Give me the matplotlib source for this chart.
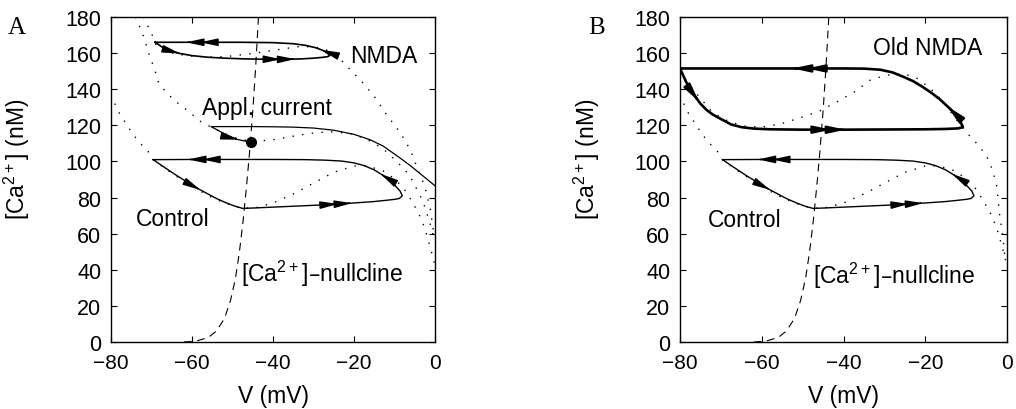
import numpy as np
import matplotlib
matplotlib.use('Agg')
import matplotlib.pyplot as plt

plt.rcParams['font.family'] = ['Liberation Sans', 'DejaVu Sans']
plt.rcParams['font.size'] = 16.5
plt.rcParams['xtick.labelsize'] = 15
plt.rcParams['ytick.labelsize'] = 15.5

# --- data: V (mV), [Ca2+] (nM) ---
# Ca2+ nullcline (dashed, same in both panels)
null_v = [-62, -59, -56, -54, -52, -50.5, -49.3, -48.3, -47.4, -46.6, -45.8, -45, -44.3, -43.6]
null_ca = [0, 0.5, 2.5, 6, 13, 23, 35, 50, 67, 85, 105, 128, 152, 180]

# control V-nullcline (dotted, both panels)
ctrl_nc_v = [-80, -78.3, -76.3, -74.6, -72.6, -70.9, -69.6, -66, -62, -59, -56, -53, -50,
             -47.5, -44, -40, -35, -30, -25, -20, -16.8, -13, -11, -8, -6, -4, -2.5, -1, 0]
ctrl_nc_ca = [137, 128, 121, 115, 109.6, 105.7, 101, 95, 89, 85, 81, 78, 75.5,
              74, 74.5, 77, 82, 88, 94, 97.5, 97.5, 95, 92, 86, 79, 71, 63, 51, 42]

# applied current V-nullcline (dotted, panel A)
appl_nc_v = [-74, -72.8, -71.6, -70.9, -70, -69.1, -68.4, -66.7, -64.2, -61, -57.8, -55.3, -50,
             -45.4, -40, -35, -31, -26, -21, -17, -12.8, -9, -6.2, -3, -1, 0]
appl_nc_ca = [180, 174, 167, 161, 155.6, 150, 144.5, 139, 133.5, 128, 122, 119, 113.5,
              111, 112, 114, 115.5, 116.5, 115.5, 112.5, 107, 99, 92, 78, 64, 55]

# NMDA V-nullcline (dotted, panel A)
nmda_nc_v = [-72, -70, -69, -67, -64, -60, -56, -52, -46, -40, -34, -30, -27, -24, -21,
             -18, -15, -12, -8.6, -6, -4.5, -2.5, -1.2, -0.3]
nmda_nc_ca = [180, 171, 165, 161.5, 159.5, 158.3, 157.8, 158, 159.5, 161.5, 163.5, 163.5, 162,
              158, 151, 144, 136, 126, 116, 106, 97, 86, 74, 60]

# old NMDA V-nullcline (dotted, panel B)
old_nc_v = [-80, -78, -75, -72, -68, -64, -60, -55.5, -50, -45.8, -41.6, -37, -33.5, -30, -27,
            -24.5, -22, -19, -16, -13, -11, -9.1, -7, -5, -3.5, -2.5, -1.8, -1, -0.5]
old_nc_ca = [150, 143, 135, 127, 122, 119.5, 119, 120.7, 124.6, 128, 133, 139, 145, 147.5, 148.5,
             148, 146, 141, 134, 125, 119, 114, 109, 103, 95, 86, 70, 58, 46]

# trajectories (in the order of motion)
ctrl_v = [-69.6, -67, -64, -61.5, -59, -56.5, -54, -51.5, -49.5, -47.5, -45, -40, -35, -30, -25,
          -20, -15, -12, -10, -8.8, -8.1, -8.6, -9.8, -11.3, -13, -15, -17.5, -20, -23, -27, -32,
          -40, -50, -60, -69.6]
ctrl_ca = [101, 97, 92.5, 89, 85.5, 82.5, 79.5, 77, 75.3, 74, 74.2, 74.7, 75.2, 75.7, 76.3,
           77, 77.8, 78.5, 79, 79.5, 81, 83.5, 86.5, 89.5, 92.5, 95.3, 97.7, 99.2, 100.2, 100.7, 101,
           101.1, 101.1, 101.1, 101]
ctrl_tips = [(-58, 84), (-24, 76.3), (-20.5, 77), (-13.5, 93), (-61, 101), (-57.5, 101)]

nmda_v = [-69.1, -67.5, -65.5, -63, -60, -56, -52, -47, -42, -37, -33, -30, -28, -26.6, -26,
          -26.6, -27.8, -29.5, -32, -35, -40, -48, -56, -64, -69.1]
nmda_ca = [166, 163.5, 161.3, 159.8, 158.6, 157.7, 157.2, 156.8, 156.6, 156.6, 156.8, 157.2, 157.6,
           158, 158.6, 160, 161.6, 163, 164.3, 165.2, 165.8, 166, 166, 166, 166]
nmda_tips = [(-63, 159.8), (-38, 156.6), (-34.5, 156.7), (-28, 162), (-61.5, 166), (-58, 166)]

appl_v = [0, -3, -6, -9, -12.8, -16, -20, -25, -30, -35, -40, -45, -50, -55.3,
          -53, -51, -49, -47, -45.4]
appl_ca = [86.5, 92, 97.5, 102.5, 108.5, 112, 115, 117.3, 118.5, 119, 119.2, 119.3, 119.3, 119.3,
           116.5, 114.2, 112.3, 111.3, 111]
appl_tips = [(-48.5, 112)]
fixed_pt = (-45.4, 111)

old_v = [-80, -79.3, -78.5, -77.5, -76.3, -75, -73.5, -72, -70, -67.5, -65, -62, -58, -50, -40,
         -30, -20, -15, -12, -10.8, -11.3, -12.2, -13.3, -14.8, -16.5, -18.5, -20.8, -23, -25.5,
         -28, -31, -35, -40, -50, -60, -70, -80]
old_ca = [151.5, 148, 144, 140, 136, 132, 128.5, 126, 123.5, 120.5, 119, 118.2, 117.8, 117.6, 117.6,
          117.7, 117.8, 118, 118.3, 119, 121.5, 124.5, 127.7, 131, 134.5, 138, 141.5, 144.5, 147,
          149.3, 150.8, 151.4, 151.5, 151.5, 151.5, 151.5, 151.5]
old_tips = [(-75.3, 133.5), (-43, 117.6), (-39.5, 117.6), (-14.5, 130.5), (-52.5, 151.5), (-49, 151.5)]

xticks = [-80, -60, -40, -20, 0]
yticks = list(range(0, 181, 20))


def draw_arrows(ax, v, ca, tips, lw):
    pts = np.column_stack([np.asarray(v) / 80.0, np.asarray(ca) / 180.0])
    for tv, tc in tips:
        p = np.array([tv / 80.0, tc / 180.0])
        best = None
        for i in range(len(pts) - 1):
            a, b = pts[i], pts[i + 1]
            d = b - a
            l2 = d @ d
            if l2 == 0:
                continue
            t = np.clip((p - a) @ d / l2, 0, 1)
            q = a + t * d
            dist = np.linalg.norm(p - q)
            if best is None or dist < best[0]:
                best = (dist, q, d / np.sqrt(l2))
        _, q, u = best
        tail = q - u * 0.01
        ax.annotate('', xy=(q[0] * 80, q[1] * 180), xytext=(tail[0] * 80, tail[1] * 180),
                    arrowprops=dict(arrowstyle='-|>,head_length=0.7,head_width=0.15',
                                    color='black', lw=lw, shrinkA=0, shrinkB=0,
                                    mutation_scale=15))


def setup(ax, letter, ylab_x, letter_x):
    ax.set_xlim(-80, 0)
    ax.set_ylim(0, 180)
    ax.set_xticks(xticks)
    ax.set_yticks(yticks)
    ax.tick_params(direction='in', top=True, right=True, length=4, width=0.8)
    ax.tick_params(axis='x', pad=8)
    ax.tick_params(axis='y', pad=7)
    for s in ax.spines.values():
        s.set_linewidth(1.0)
    ax.set_xlabel('V (mV)')
    ax.set_ylabel(r'[Ca$\mathregular{^{2+}}$] (nM)')
    ax.xaxis.set_label_coords(0.5, -0.13)
    ax.yaxis.set_label_coords(ylab_x, 0.565)
    ax.text(letter_x, 0.97, letter, transform=ax.transAxes,
            family='Liberation Serif', fontsize=18, ha='center', va='center')


dot = dict(color='black', lw=1.0, linestyle=(0, (1, 6)))
dash = dict(color='black', lw=0.8, linestyle=(0, (7, 5)))

fig = plt.figure(figsize=(10.16, 4.10), dpi=100)
axA = fig.add_axes([0.1093, 0.1634, 0.3189, 0.7927])
axB = fig.add_axes([0.6693, 0.1634, 0.3219, 0.7927])

# panel A
axA.plot(null_v, null_ca, **dash)
axA.plot(ctrl_nc_v, ctrl_nc_ca, **dot)
axA.plot(appl_nc_v, appl_nc_ca, **dot)
axA.plot(nmda_nc_v, nmda_nc_ca, **dot)
axA.plot(ctrl_v, ctrl_ca, color='black', lw=1.0)
axA.plot(nmda_v, nmda_ca, color='black', lw=1.2)
axA.plot(appl_v, appl_ca, color='black', lw=0.9)
draw_arrows(axA, ctrl_v, ctrl_ca, ctrl_tips, 1.0)
draw_arrows(axA, nmda_v, nmda_ca, nmda_tips, 1.0)
draw_arrows(axA, appl_v, appl_ca, appl_tips, 1.0)
axA.plot(*fixed_pt, 'o', color='black', markersize=7, zorder=5)
axA.text(-12.6, 158.4, 'NMDA', ha='center', va='center')
axA.text(-41.5, 130, 'Appl. current', ha='center', va='center')
axA.text(-64.7, 68.5, 'Control', ha='center', va='center')
axA.text(-27.9, 38, r'[Ca$\mathregular{^{2+}}$]–nullcline', ha='center', va='center')
setup(axA, 'A', -0.245, -0.29)

# panel B
axB.plot(null_v, null_ca, **dash)
axB.plot(ctrl_nc_v, ctrl_nc_ca, **dot)
axB.plot(old_nc_v, old_nc_ca, **dot)
axB.plot(ctrl_v, ctrl_ca, color='black', lw=1.0)
axB.plot(old_v, old_ca, color='black', lw=1.9)
draw_arrows(axB, ctrl_v, ctrl_ca, ctrl_tips, 1.0)
draw_arrows(axB, old_v, old_ca, old_tips, 1.6)
axB.text(-19.4, 163, 'Old NMDA', ha='center', va='center')
axB.text(-64.1, 68, 'Control', ha='center', va='center')
axB.text(-27.7, 37, r'[Ca$\mathregular{^{2+}}$]–nullcline', ha='center', va='center')
setup(axB, 'B', -0.238, -0.255)

fig.savefig('out.png', dpi=100)
